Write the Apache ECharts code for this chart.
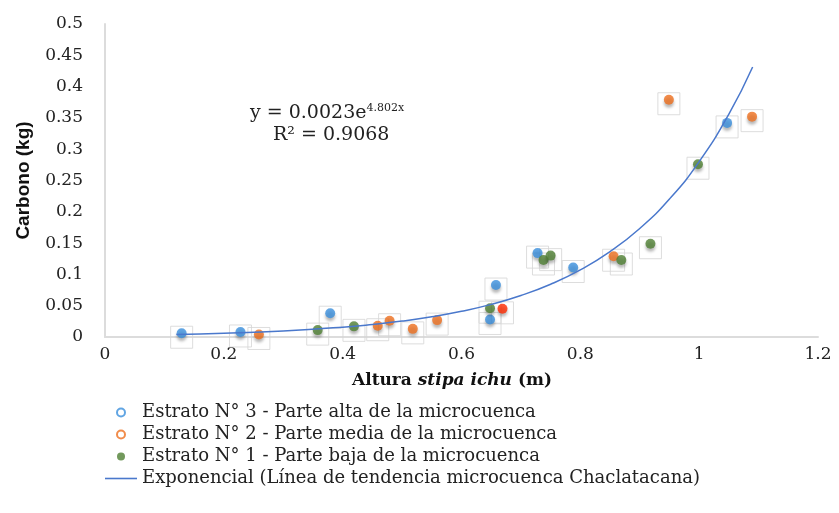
<!DOCTYPE html>
<html>
<head>
<meta charset="utf-8">
<script src="https://cdn.jsdelivr.net/npm/echarts@6/dist/echarts.min.js"></script>
<style>html,body{margin:0;padding:0;background:#fff}#c{width:839px;height:513px}</style>
</head>
<body>
<div id="c"></div>
<script>
// Estrato N° 3 - Parte alta (blue)
const alta = [[0.129,0.006],[0.228,0.008],[0.379,0.038],[0.648,0.028],[0.658,0.083],[0.728,0.134],[0.788,0.111],[1.047,0.342]];
// Estrato N° 2 - Parte media (orange)
const media = [[0.259,0.004],[0.459,0.018],[0.479,0.026],[0.518,0.013],[0.559,0.027],[0.669,0.045],[0.856,0.129],[0.949,0.379],[1.089,0.352]];
// Estrato N° 1 - Parte baja (green)
const baja = [[0.358,0.011],[0.419,0.017],[0.648,0.046],[0.738,0.123],[0.750,0.130],[0.869,0.123],[0.918,0.149],[0.998,0.276]];
// Exponential trend line
const trendX = [0.12,0.2,0.3,0.4,0.45,0.5,0.55,0.6,0.65,0.7,0.75,0.8,0.85,0.9,0.95,1.0,1.05,1.09];
const trendY = [0.0041,0.0060,0.0097,0.0157,0.0200,0.0254,0.0323,0.0410,0.0521,0.0663,0.0843,0.1072,0.1363,0.1733,0.2203,0.2801,0.3561,0.4314];
const xTicks = {min:0, max:1.2, step:0.2};
const yTicks = {min:0, max:0.5, step:0.05};
const names = ['Estrato N° 3 - Parte alta de la microcuenca','Estrato N° 2 - Parte media de la microcuenca','Estrato N° 1 - Parte baja de la microcuenca','Exponencial (Línea de tendencia microcuenca Chaclatacana)'];
const colors = ['#3a8fdc','#ee6f1e','#4f7f33','#4a78cc'];

const serif = 'DejaVu Serif';
const chart = echarts.init(document.getElementById('c'), null, {renderer:'canvas'});
const boxSeries = (data) => ({
  type:'scatter', data: data, silent:true, symbol:'rect', symbolSize:[22,22], symbolOffset:[0,4],
  itemStyle:{color:'rgba(0,0,0,0)', borderColor:'#d4d4d4', borderWidth:1}, z:1, tooltip:{show:false}
});
const pointStyle = (c) => ({color:c, shadowBlur:3, shadowColor:'rgba(0,0,0,0.35)', shadowOffsetY:3});
const mediaData = media.map((p) => (p[0]===0.669 ? {value:p, itemStyle:{color:'#ff2a00'}} : p));

chart.setOption({
  animation:false,
  grid:{left:105, right:21, top:24, bottom:176, containLabel:false},
  xAxis:{
    type:'value', min:xTicks.min, max:xTicks.max, interval:xTicks.step,
    axisLine:{show:true, lineStyle:{color:'#dcdcdc', width:2}},
    axisTick:{show:false}, splitLine:{show:false},
    axisLabel:{fontFamily:serif, fontSize:17, color:'#222', margin:9}
  },
  yAxis:{
    type:'value', min:yTicks.min, max:yTicks.max, interval:yTicks.step,
    name:'Carbono (kg)', nameLocation:'middle', nameGap:72,
    nameTextStyle:{fontFamily:'Liberation Sans', fontWeight:'bold', fontSize:19, color:'#111'},
    axisLine:{show:true, lineStyle:{color:'#dcdcdc', width:2}},
    axisTick:{show:false}, splitLine:{show:false},
    axisLabel:{fontFamily:serif, fontSize:17, color:'#222', margin:22}
  },
  legend:{
    orient:'vertical', left:100, top:398, height:120, itemWidth:32, itemHeight:8, itemGap:3, itemTextGap:3,
    textStyle:{fontFamily:serif, fontSize:18, color:'#222', lineHeight:19},
    data:[
      {name:names[0], icon:'emptyCircle', itemStyle:{color:colors[0], borderWidth:1.5, shadowBlur:0, shadowOffsetY:0}},
      {name:names[1], icon:'emptyCircle', itemStyle:{color:colors[1], borderWidth:1.5, shadowBlur:0, shadowOffsetY:0}},
      {name:names[2], icon:'circle', itemStyle:{color:colors[2], shadowBlur:0, shadowOffsetY:0}},
      {name:names[3], icon:'path://M0,0 L32,0 L32,1.6 L0,1.6 Z', itemStyle:{color:colors[3]}}
    ]
  },
  graphic:[
    {type:'text', left:352, top:372, style:{
      text:'{b|Altura }{i|stipa ichu}{b| (m)}',
      rich:{b:{fontFamily:serif, fontWeight:'bold', fontSize:17, fill:'#111'}, i:{fontFamily:serif, fontWeight:'bold', fontStyle:'italic', fontSize:17, fill:'#111'}}
    }},
    {type:'text', left:250, top:103, style:{
      text:'{n|y = 0.0023e}{s|4.802x}',
      rich:{n:{fontFamily:serif, fontSize:19, fill:'#222'}, s:{fontFamily:serif, fontSize:11, fill:'#222', verticalAlign:'top', padding:[0,0,10,0]}}
    }},
    {type:'text', left:273, top:126, style:{text:'R² = 0.9068', fontFamily:serif, fontSize:19, fill:'#222'}}
  ],
  series:[
    boxSeries(alta), boxSeries(media), boxSeries(baja),
    {name:names[0], type:'scatter', data:alta, symbol:'circle', symbolSize:10, itemStyle:pointStyle(colors[0]), z:3},
    {name:names[1], type:'scatter', data:mediaData, symbol:'circle', symbolSize:10, itemStyle:pointStyle(colors[1]), z:3},
    {name:names[2], type:'scatter', data:baja, symbol:'circle', symbolSize:10, itemStyle:pointStyle(colors[2]), z:3},
    {name:names[3], type:'line', data:trendX.map((x,i)=>[x,trendY[i]]), smooth:true, showSymbol:false,
      lineStyle:{color:colors[3], width:1.5}, itemStyle:{color:colors[3]}, z:4}
  ]
});
</script>
</body>
</html>
